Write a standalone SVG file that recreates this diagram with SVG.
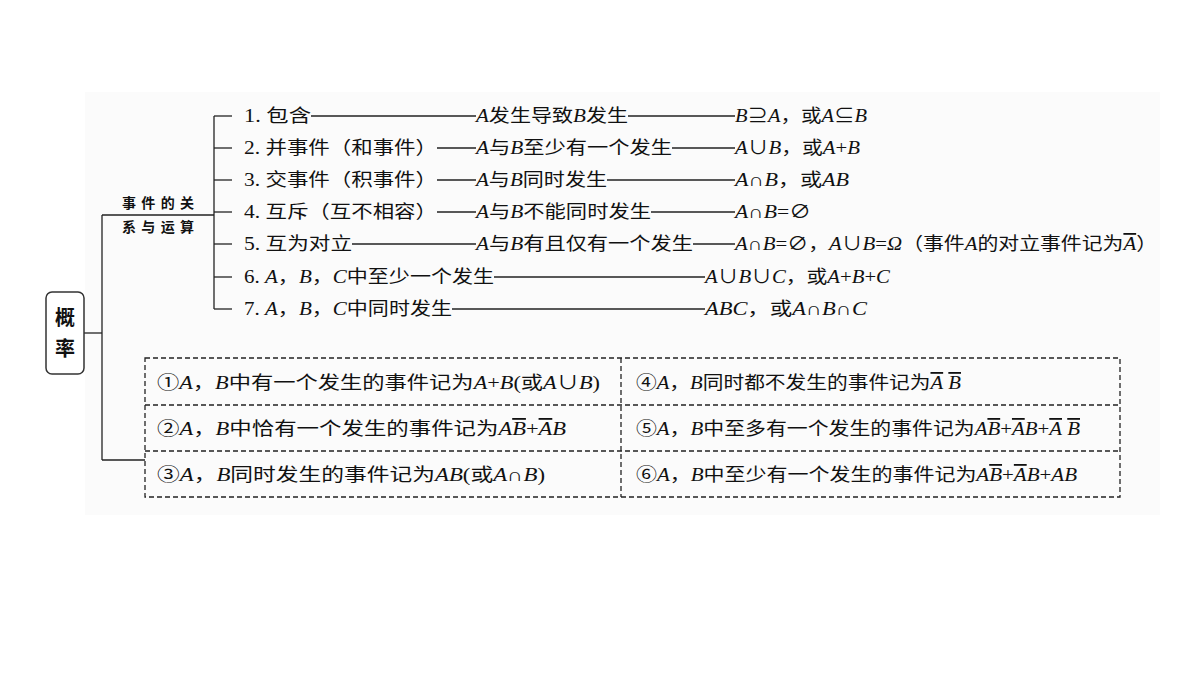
<svg xmlns="http://www.w3.org/2000/svg" width="1200" height="675" viewBox="0 0 1200 675">
<style>
text{font-family:"Liberation Serif","Noto Sans CJK SC",serif;font-size:18px;fill:#111}
.i{font-style:italic}
.ln{stroke:#222;stroke-width:1.3;fill:none}
.d{stroke:#222;stroke-width:1.3;fill:none;stroke-dasharray:5,3}
.o{text-decoration:overline}
</style>
<rect x="85" y="92" width="1075" height="423" fill="#fbfbfb"/>
<g id="connectors">
<line class="ln" x1="84" y1="333" x2="102" y2="333"/>
<line class="ln" x1="102" y1="215" x2="102" y2="460"/>
<line class="ln" x1="102" y1="215" x2="214" y2="215"/>
<line class="ln" x1="102" y1="460" x2="145" y2="460"/>
<line class="ln" x1="214" y1="116" x2="214" y2="309"/>
<line class="ln" x1="214" y1="116" x2="232" y2="116"/>
<line class="ln" x1="214" y1="148" x2="232" y2="148"/>
<line class="ln" x1="214" y1="180" x2="232" y2="180"/>
<line class="ln" x1="214" y1="212" x2="232" y2="212"/>
<line class="ln" x1="214" y1="244" x2="232" y2="244"/>
<line class="ln" x1="214" y1="277" x2="232" y2="277"/>
<line class="ln" x1="214" y1="309" x2="232" y2="309"/>
<line class="ln" x1="311" y1="116" x2="476" y2="116"/><line class="ln" x1="628" y1="116" x2="735" y2="116"/>
<line class="ln" x1="437" y1="148" x2="476" y2="148"/><line class="ln" x1="672" y1="148" x2="735" y2="148"/>
<line class="ln" x1="437" y1="180" x2="476" y2="180"/><line class="ln" x1="607" y1="180" x2="735" y2="180"/>
<line class="ln" x1="437" y1="212" x2="476" y2="212"/><line class="ln" x1="651" y1="212" x2="735" y2="212"/>
<line class="ln" x1="352" y1="244" x2="476" y2="244"/><line class="ln" x1="693" y1="244" x2="735" y2="244"/>
<line class="ln" x1="494" y1="277" x2="705" y2="277"/>
<line class="ln" x1="452" y1="309" x2="705" y2="309"/>
</g>
<g id="root">
<rect x="46" y="292" width="38" height="82" rx="6" fill="#fff" stroke="#333" stroke-width="1.5"/>
<text x="65" y="325" text-anchor="middle" style="font-size:20px;font-weight:bold;font-family:'Noto Sans CJK SC',sans-serif">概</text>
<text x="65" y="356" text-anchor="middle" style="font-size:20px;font-weight:bold;font-family:'Noto Sans CJK SC',sans-serif">率</text>
</g>
<g id="sub">
<text x="158" y="208" text-anchor="middle" style="font-size:14px;font-weight:bold" textLength="72" lengthAdjust="spacing">事件的关</text>
<text x="158" y="232" text-anchor="middle" style="font-size:14px;font-weight:bold" textLength="72" lengthAdjust="spacing">系与运算</text>
</g>
<g id="items">
<text x="244" y="122" textLength="67" lengthAdjust="spacingAndGlyphs">1. 包含</text>
<text x="476" y="122" textLength="152" lengthAdjust="spacingAndGlyphs"><tspan class="i">A</tspan>发生导致<tspan class="i">B</tspan>发生</text>
<text x="735" y="122" textLength="132" lengthAdjust="spacingAndGlyphs"><tspan class="i">B</tspan>⊇<tspan class="i">A</tspan>，或<tspan class="i">A</tspan>⊆<tspan class="i">B</tspan></text>
<text x="244" y="154" textLength="193" lengthAdjust="spacingAndGlyphs">2. 并事件（和事件）</text>
<text x="476" y="154" textLength="196" lengthAdjust="spacingAndGlyphs"><tspan class="i">A</tspan>与<tspan class="i">B</tspan>至少有一个发生</text>
<text x="735" y="154" textLength="125" lengthAdjust="spacingAndGlyphs"><tspan class="i">A</tspan>∪<tspan class="i">B</tspan>，或<tspan class="i">A</tspan>+<tspan class="i">B</tspan></text>
<text x="244" y="186" textLength="193" lengthAdjust="spacingAndGlyphs">3. 交事件（积事件）</text>
<text x="476" y="186" textLength="131" lengthAdjust="spacingAndGlyphs"><tspan class="i">A</tspan>与<tspan class="i">B</tspan>同时发生</text>
<text x="735" y="186" textLength="114" lengthAdjust="spacingAndGlyphs"><tspan class="i">A</tspan>∩<tspan class="i">B</tspan>，或<tspan class="i">AB</tspan></text>
<text x="244" y="218" textLength="193" lengthAdjust="spacingAndGlyphs">4. 互斥（互不相容）</text>
<text x="476" y="218" textLength="175" lengthAdjust="spacingAndGlyphs"><tspan class="i">A</tspan>与<tspan class="i">B</tspan>不能同时发生</text>
<text x="735" y="218" textLength="76" lengthAdjust="spacingAndGlyphs"><tspan class="i">A</tspan>∩<tspan class="i">B</tspan>=∅</text>
<text x="244" y="250" textLength="108" lengthAdjust="spacingAndGlyphs">5. 互为对立</text>
<text x="476" y="250" textLength="217" lengthAdjust="spacingAndGlyphs"><tspan class="i">A</tspan>与<tspan class="i">B</tspan>有且仅有一个发生</text>
<text x="735" y="250" textLength="422" lengthAdjust="spacingAndGlyphs"><tspan class="i">A</tspan>∩<tspan class="i">B</tspan>=∅，<tspan class="i">A</tspan>∪<tspan class="i">B</tspan>=<tspan class="i">Ω</tspan>（事件<tspan class="i">A</tspan>的对立事件记为<tspan class="i o">A</tspan>）</text>
<text x="244" y="283" textLength="250" lengthAdjust="spacingAndGlyphs">6. <tspan class="i">A</tspan>，<tspan class="i">B</tspan>，<tspan class="i">C</tspan>中至少一个发生</text>
<text x="705" y="283" textLength="185" lengthAdjust="spacingAndGlyphs"><tspan class="i">A</tspan>∪<tspan class="i">B</tspan>∪<tspan class="i">C</tspan>，或<tspan class="i">A</tspan>+<tspan class="i">B</tspan>+<tspan class="i">C</tspan></text>
<text x="244" y="315" textLength="208" lengthAdjust="spacingAndGlyphs">7. <tspan class="i">A</tspan>，<tspan class="i">B</tspan>，<tspan class="i">C</tspan>中同时发生</text>
<text x="705" y="315" textLength="162" lengthAdjust="spacingAndGlyphs"><tspan class="i">ABC</tspan>，或<tspan class="i">A</tspan>∩<tspan class="i">B</tspan>∩<tspan class="i">C</tspan></text>
</g>
<g id="table">
<rect class="d" x="145" y="358" width="975" height="139" fill="#fff"/>
<line class="d" x1="145" y1="405" x2="1120" y2="405"/>
<line class="d" x1="145" y1="451" x2="1120" y2="451"/>
<line class="d" x1="621" y1="358" x2="621" y2="497"/>
<text x="157" y="389" textLength="443" lengthAdjust="spacingAndGlyphs">①<tspan class="i">A</tspan>，<tspan class="i">B</tspan>中有一个发生的事件记为<tspan class="i">A</tspan>+<tspan class="i">B</tspan>(或<tspan class="i">A</tspan>∪<tspan class="i">B</tspan>)</text>
<text x="157" y="435" textLength="409" lengthAdjust="spacingAndGlyphs">②<tspan class="i">A</tspan>，<tspan class="i">B</tspan>中恰有一个发生的事件记为<tspan class="i">A</tspan><tspan class="i o">B</tspan>+<tspan class="i o">A</tspan><tspan class="i">B</tspan></text>
<text x="157" y="481" textLength="388" lengthAdjust="spacingAndGlyphs">③<tspan class="i">A</tspan>，<tspan class="i">B</tspan>同时发生的事件记为<tspan class="i">AB</tspan>(或<tspan class="i">A</tspan>∩<tspan class="i">B</tspan>)</text>
<text x="636" y="389" textLength="325" lengthAdjust="spacingAndGlyphs">④<tspan class="i">A</tspan>，<tspan class="i">B</tspan>同时都不发生的事件记为<tspan class="i o">A</tspan> <tspan class="i o">B</tspan></text>
<text x="636" y="435" textLength="444" lengthAdjust="spacingAndGlyphs">⑤<tspan class="i">A</tspan>，<tspan class="i">B</tspan>中至多有一个发生的事件记为<tspan class="i">A</tspan><tspan class="i o">B</tspan>+<tspan class="i o">A</tspan><tspan class="i">B</tspan>+<tspan class="i o">A</tspan> <tspan class="i o">B</tspan></text>
<text x="636" y="481" textLength="441" lengthAdjust="spacingAndGlyphs">⑥<tspan class="i">A</tspan>，<tspan class="i">B</tspan>中至少有一个发生的事件记为<tspan class="i">A</tspan><tspan class="i o">B</tspan>+<tspan class="i o">A</tspan><tspan class="i">B</tspan>+<tspan class="i">AB</tspan></text>
</g>
</svg>
